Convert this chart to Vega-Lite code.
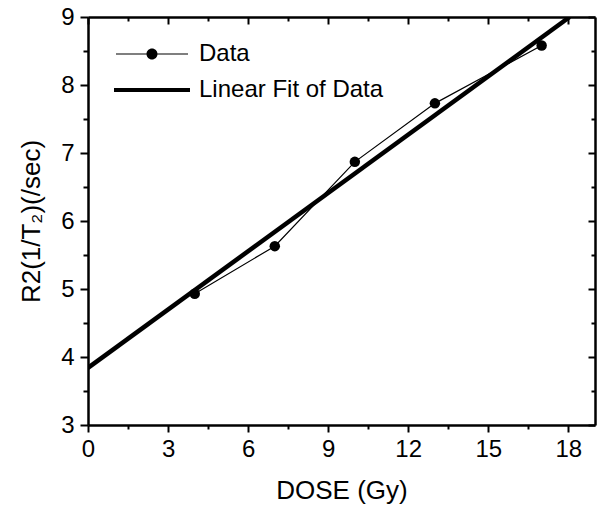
{
  "$schema": "https://vega.github.io/schema/vega-lite/v6.json",
  "width": 507,
  "height": 408,
  "autosize": "none",
  "padding": {"left": 88, "top": 17, "right": 3, "bottom": 87},
  "background": "white",
  "config": {
    "view": {"stroke": null},
    "axis": {
      "grid": false,
      "domainColor": "black",
      "domainWidth": 2.5,
      "tickColor": "black",
      "tickWidth": 2,
      "labelFont": "Liberation Sans",
      "labelFontSize": 24,
      "labelColor": "black",
      "titleFont": "Liberation Sans",
      "titleFontSize": 26,
      "titleFontWeight": "normal",
      "titleColor": "black",
      "labelOverlap": false,
      "labelFlush": false
    }
  },
  "datasets": {
    "obs": [
      {"dose": 4, "r2": 4.93, "series": "Data"},
      {"dose": 7, "r2": 5.63, "series": "Data"},
      {"dose": 10, "r2": 6.87, "series": "Data"},
      {"dose": 13, "r2": 7.73, "series": "Data"},
      {"dose": 17, "r2": 8.58, "series": "Data"}
    ],
    "fit": [
      {"dose": 0, "r2": 3.84, "series": "Linear Fit of Data"},
      {"dose": 18.05, "r2": 9.0, "series": "Linear Fit of Data"}
    ]
  },
  "layer": [
    {
      "data": {"name": "fit"},
      "mark": {"type": "line", "strokeWidth": 4.5, "clip": true},
      "encoding": {
        "x": {
          "field": "dose", "type": "quantitative",
          "scale": {"domain": [0, 19], "nice": false, "zero": false},
          "axis": {
            "orient": "bottom",
            "title": "DOSE (Gy)",
            "titlePadding": 16,
            "format": "d",
            "values": [0, 1.5, 3, 4.5, 6, 7.5, 9, 10.5, 12, 13.5, 15, 16.5, 18],
            "tickSize": {"expr": "datum.value % 3 === 0 ? 7 : 4"},
            "labelExpr": "datum.value % 3 === 0 ? format(datum.value, 'd') : ''",
            "labelPadding": 5
          }
        },
        "y": {
          "field": "r2", "type": "quantitative",
          "scale": {"domain": [3, 9], "nice": false, "zero": false},
          "axis": {
            "orient": "left",
            "title": "R2(1/T₂)(/sec)",
            "titlePadding": 16,
            "values": [3, 3.5, 4, 4.5, 5, 5.5, 6, 6.5, 7, 7.5, 8, 8.5, 9],
            "tickSize": {"expr": "datum.value % 1 === 0 ? 8 : 5"},
            "labelExpr": "datum.value % 1 === 0 ? format(datum.value, 'd') : ''",
            "labelPadding": 6
          }
        },
        "color": {
          "field": "series", "type": "nominal",
          "scale": {"domain": ["Data", "Linear Fit of Data"], "range": ["black", "black"]},
          "legend": {
            "orient": "none",
            "legendX": 52,
            "legendY": 25,
            "title": null,
            "padding": 0,
            "labelFont": "Liberation Sans",
            "labelFontSize": 24,
            "labelColor": "black",
            "labelLimit": 400,
            "symbolSize": 400,
            "symbolOffset": 0,
            "labelOffset": 35,
            "rowPadding": 12,
            "encode": {
              "symbols": {
                "update": {
                  "shape": {"signal": "datum.value === 'Data' ? 'M-3.6,-0.06H-0.5V0.06H-3.6Z M0.5,-0.06H3.6V0.06H0.5Z M0.55,0A0.55,0.55 0 1,1 -0.55,0A0.55,0.55 0 1,1 0.55,0Z' : 'M-3.8,-0.2H3.8V0.2H-3.8Z'"},
                  "fill": {"value": "black"},
                  "fillOpacity": {"value": 1},
                  "stroke": {"value": "black"},
                  "strokeWidth": {"value": 0},
                  "opacity": {"value": 1}
                }
              }
            }
          }
        }
      }
    },
    {
      "data": {"name": "obs"},
      "mark": {"type": "line", "strokeWidth": 1.2},
      "encoding": {
        "x": {
          "field": "dose", "type": "quantitative",
          "axis": {
            "orient": "top",
            "title": null,
            "labels": false,
            "values": [0, 1.5, 3, 4.5, 6, 7.5, 9, 10.5, 12, 13.5, 15, 16.5, 18],
            "tickSize": {"expr": "datum.value % 3 === 0 ? -7 : -4"}
          }
        },
        "y": {
          "field": "r2", "type": "quantitative",
          "axis": {
            "orient": "right",
            "title": null,
            "labels": false,
            "values": [3, 3.5, 4, 4.5, 5, 5.5, 6, 6.5, 7, 7.5, 8, 8.5, 9],
            "tickSize": {"expr": "datum.value % 1 === 0 ? -7 : -4"}
          }
        },
        "color": {"field": "series", "type": "nominal"}
      }
    },
    {
      "data": {"name": "obs"},
      "mark": {"type": "circle", "size": 110, "opacity": 1},
      "encoding": {
        "x": {"field": "dose", "type": "quantitative", "axis": null},
        "y": {"field": "r2", "type": "quantitative", "axis": null},
        "color": {"field": "series", "type": "nominal"}
      }
    }
  ],
  "resolve": {"axis": {"x": "independent", "y": "independent"}}
}
